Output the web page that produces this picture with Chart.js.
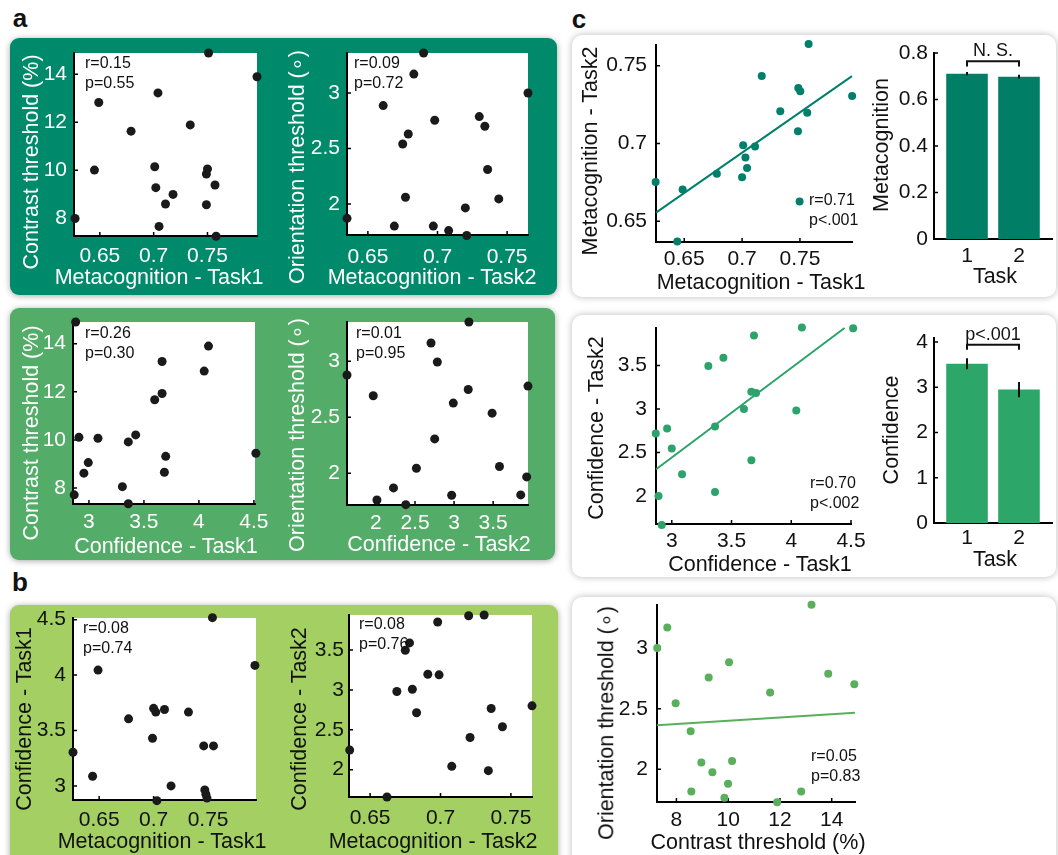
<!DOCTYPE html>
<html>
<head>
<meta charset="utf-8">
<script src="https://cdn.jsdelivr.net/npm/chart.js@4.4.1/dist/chart.umd.min.js"></script>
<style>
  html, body { margin: 0; padding: 0; background: #fff; }
  #fig { position: relative; width: 1058px; height: 855px; overflow: hidden; font-family: 'Liberation Sans', Arial, sans-serif; }
  .box { position: absolute; border-radius: 9px; box-shadow: 0 1px 6px rgba(0,0,0,0.35); }
  .card { position: absolute; background: #fff; border-radius: 10px; box-shadow: 0 0 7px rgba(0,0,0,0.28); }
  .lbl { position: absolute; white-space: nowrap; transform: translate(-50%, -50%); font-size: 21.5px; line-height: 1; z-index: 2; }
  .lbl.rot { transform: translate(-50%, -50%) rotate(-90deg); }
  .w { color: #fff; }
  .k { color: #111; }
  .note { position: absolute; white-space: nowrap; font-size: 16px; line-height: 20px; color: #111; z-index: 2; }
  .letter { position: absolute; font-weight: bold; font-size: 26px; transform: translate(-50%, -50%); color: #111; }
  canvas { position: absolute; z-index: 1; }
</style>
</head>
<body>
<div id="fig">
  <div class="box" style="left:10px;top:38px;width:547px;height:257px;background:#008a6c"></div>
  <div class="box" style="left:10px;top:308px;width:545px;height:252px;background:#53ad68"></div>
  <div class="box" style="left:10px;top:605px;width:548px;height:270px;background:#a3cf63"></div>
  <div class="card" style="left:572px;top:35px;width:484px;height:262px"></div>
  <div class="card" style="left:572px;top:315px;width:484px;height:262px"></div>
  <div class="card" style="left:572px;top:597px;width:484px;height:280px"></div>

  <div class="letter" style="left:20px;top:18px">a</div>
  <div class="letter" style="left:20px;top:582px">b</div>
  <div class="letter" style="left:579px;top:19px">c</div>

  <!-- axis titles -->
  <div class="lbl rot w" style="left:32px;top:162px">Contrast threshold (%)</div>
  <div class="lbl w" style="left:159px;top:278px">Metacognition - Task1</div>
  <div class="lbl rot w" style="left:298px;top:167px">Orientation threshold (∘)</div>
  <div class="lbl w" style="left:432px;top:278px">Metacognition - Task2</div>
  <div class="lbl rot w" style="left:32px;top:433px">Contrast threshold (%)</div>
  <div class="lbl w" style="left:166px;top:547px">Confidence - Task1</div>
  <div class="lbl rot w" style="left:298px;top:435px">Orientation threshold (∘)</div>
  <div class="lbl w" style="left:439px;top:545px">Confidence - Task2</div>
  <div class="lbl rot k" style="left:25px;top:719px">Confidence - Task1</div>
  <div class="lbl k" style="left:162px;top:842px">Metacognition - Task1</div>
  <div class="lbl rot k" style="left:300px;top:719px">Confidence - Task2</div>
  <div class="lbl k" style="left:433px;top:842px">Metacognition - Task2</div>
  <div class="lbl rot k" style="left:591px;top:151px">Metacognition - Task2</div>
  <div class="lbl k" style="left:761px;top:283px">Metacognition - Task1</div>
  <div class="lbl rot k" style="left:597px;top:428px">Confidence - Task2</div>
  <div class="lbl k" style="left:760px;top:565px">Confidence - Task1</div>
  <div class="lbl rot k" style="left:607px;top:723px">Orientation threshold (∘)</div>
  <div class="lbl k" style="left:758px;top:843px">Contrast threshold (%)</div>
  <div class="lbl rot k" style="left:882px;top:145px">Metacognition</div>
  <div class="lbl k" style="left:995px;top:277px">Task</div>
  <div class="lbl rot k" style="left:892px;top:430px">Confidence</div>
  <div class="lbl k" style="left:995px;top:560px">Task</div>

  <!-- correlation notes -->
  <div class="note" style="left:85px;top:53px">r=0.15<br>p=0.55</div>
  <div class="note" style="left:354px;top:53px">r=0.09<br>p=0.72</div>
  <div class="note" style="left:85px;top:323px">r=0.26<br>p=0.30</div>
  <div class="note" style="left:356px;top:323px">r=0.01<br>p=0.95</div>
  <div class="note" style="left:83px;top:618px">r=0.08<br>p=0.74</div>
  <div class="note" style="left:359px;top:614px">r=0.08<br>p=0.76</div>
  <div class="note" style="left:809px;top:190px">r=0.71<br>p&lt;.001</div>
  <div class="note" style="left:810px;top:473px">r=0.70<br>p&lt;.002</div>
  <div class="note" style="left:811px;top:746px">r=0.05<br>p=0.83</div>
</div>
<script>
// --- data (18 subjects per panel) ---
const a1Meta1 = [0.751, 0.796, 0.649, 0.704, 0.679, 0.734, 0.645, 0.701, 0.750, 0.749, 0.757, 0.702, 0.718, 0.711, 0.749, 0.627, 0.705, 0.758];
const a1Contrast = [14.88, 13.89, 12.82, 13.22, 11.63, 11.89, 10.01, 10.15, 10.06, 9.85, 9.39, 9.28, 9.00, 8.60, 8.57, 8.00, 7.67, 7.26];

const a2Meta2 = [0.690, 0.683, 0.765, 0.661, 0.698, 0.730, 0.734, 0.679, 0.675, 0.736, 0.677, 0.744, 0.635, 0.669, 0.697, 0.708, 0.720, 0.721];
const a2Orient = [3.36, 3.17, 3.00, 2.886, 2.754, 2.787, 2.70, 2.63, 2.54, 2.31, 2.06, 2.045, 1.87, 1.80, 1.80, 1.76, 1.964, 1.715];

const a3Conf1 = [2.879, 4.087, 4.048, 3.665, 3.665, 3.598, 2.909, 3.082, 3.425, 3.358, 4.518, 3.698, 2.994, 2.954, 3.686, 3.304, 2.866, 3.358];
const a3Contrast = [14.90, 13.90, 12.86, 13.26, 11.93, 11.67, 10.11, 10.07, 10.21, 9.92, 9.45, 9.32, 9.06, 8.62, 8.66, 8.06, 7.72, 7.35];

const a4Conf2 = [3.19, 2.705, 2.786, 1.630, 1.966, 3.946, 3.181, 2.990, 3.487, 2.752, 2.518, 3.581, 2.225, 3.929, 2.013, 2.382, 2.969, 3.853];
const a4Orient = [3.352, 3.164, 2.994, 2.878, 2.693, 2.779, 2.749, 2.627, 2.537, 2.307, 2.045, 2.06, 1.869, 1.967, 1.761, 1.719, 1.803, 1.806];

const b1Meta1 = [0.754, 0.793, 0.649, 0.677, 0.700, 0.702, 0.710, 0.732, 0.699, 0.746, 0.755, 0.626, 0.644, 0.716, 0.747, 0.748, 0.749, 0.703];
const b1Conf1 = [4.518, 4.087, 4.045, 3.605, 3.70, 3.666, 3.69, 3.666, 3.43, 3.361, 3.361, 3.304, 3.087, 3.00, 2.964, 2.925, 2.89, 2.867];

const b2Meta2 = [0.720, 0.731, 0.698, 0.678, 0.675, 0.691, 0.699, 0.669, 0.680, 0.683, 0.736, 0.765, 0.744, 0.721, 0.6355, 0.708, 0.734, 0.662];
const b2Conf2 = [3.929, 3.938, 3.85, 3.588, 3.496, 3.196, 3.188, 2.979, 3.008, 2.713, 2.767, 2.80, 2.538, 2.404, 2.246, 2.042, 1.988, 1.658];

const c1Meta1 = [0.7575, 0.717, 0.7951, 0.7486, 0.7503, 0.733, 0.7563, 0.7483, 0.7009, 0.7112, 0.7029, 0.7043, 0.700, 0.6782, 0.6486, 0.6253, 0.644, 0.7497];
const c1Meta2 = [0.7639, 0.7433, 0.7305, 0.7356, 0.7335, 0.7208, 0.7197, 0.7079, 0.6989, 0.6981, 0.691, 0.6843, 0.6783, 0.6805, 0.6704, 0.6753, 0.6371, 0.6627];
const c1Fit = [[0.6256, 0.6556], [0.795, 0.7433]];

const c2Conf1 = [4.089, 4.518, 3.688, 3.432, 3.306, 3.666, 3.705, 3.604, 4.042, 3.362, 2.961, 2.866, 3.0, 3.666, 3.086, 3.362, 2.889, 2.916];
const c2Conf2 = [3.937, 3.926, 3.845, 3.588, 3.492, 3.197, 3.182, 3.0, 2.982, 2.798, 2.775, 2.717, 2.545, 2.411, 2.25, 2.046, 2.0, 1.666];
const c2Fit = [[2.869, 2.307], [4.446, 3.93]];

const c3Contrast = [13.22, 7.647, 7.26, 10.034, 9.247, 13.866, 14.873, 11.621, 7.97, 8.55, 8.963, 10.15, 9.39, 9.995, 8.576, 9.854, 11.892, 12.82];
const c3Orient = [3.362, 3.174, 3.003, 2.887, 2.76, 2.79, 2.704, 2.635, 2.547, 2.315, 2.055, 2.069, 1.975, 1.881, 1.815, 1.765, 1.727, 1.815];
const c3Fit = [[7.25, 2.365], [14.9, 2.467]];

const tasks = [1, 2];
const metaMeans = [0.711, 0.698];
const metaErr = [0.007, 0.008];
const confMeans = [3.52, 2.95];
const confErr = [0.12, 0.17];

// tick labels
const ticksMeta = [0.65, 0.7, 0.75];
const ticksContrast = [8, 10, 12, 14];
const ticksOrient = [2, 2.5, 3];
const ticksConf1 = [3, 3.5, 4, 4.5];
const ticksConf2 = [2, 2.5, 3, 3.5];
const ticksBarMeta = [0, 0.2, 0.4, 0.6, 0.8];
const ticksBarConf = [0, 1, 2, 3, 4];

Chart.defaults.font.family = "'Liberation Sans', Arial, sans-serif";
Chart.defaults.font.size = 21;

// white plot area + MATLAB style inward ticks
const axesLook = {
  id: 'axesLook',
  beforeDraw(chart, args, opts) {
    if (!opts.fill) return;
    const a = chart.chartArea, ctx = chart.ctx;
    ctx.save();
    ctx.fillStyle = opts.fill;
    ctx.fillRect(a.left, a.top, a.right - a.left, a.bottom - a.top);
    ctx.restore();
  },
  beforeDatasetsDraw(chart) {
    const ctx = chart.ctx, a = chart.chartArea;
    const xs = chart.scales.x, ys = chart.scales.y;
    ctx.save();
    ctx.strokeStyle = '#000';
    ctx.lineWidth = 1.5;
    ctx.beginPath();
    xs.ticks.forEach(t => { const p = xs.getPixelForValue(t.value); ctx.moveTo(p, a.bottom); ctx.lineTo(p, a.bottom - 4); });
    ys.ticks.forEach(t => { const p = ys.getPixelForValue(t.value); ctx.moveTo(a.left, p); ctx.lineTo(a.left + 4, p); });
    ctx.stroke();
    ctx.restore();
  }
};

// error bars and significance bracket for the bar charts
const barExtras = {
  id: 'barExtras',
  afterDatasetsDraw(chart, args, opts) {
    if (!opts.err) return;
    const x = chart.scales.x, y = chart.scales.y, ctx = chart.ctx;
    ctx.save();
    ctx.strokeStyle = '#111';
    ctx.lineWidth = 2;
    ctx.beginPath();
    tasks.forEach((v, i) => {
      const px = x.getPixelForValue(v);
      ctx.moveTo(px, y.getPixelForValue(opts.means[i] - opts.err[i]));
      ctx.lineTo(px, y.getPixelForValue(opts.means[i] + opts.err[i]));
    });
    const p1 = x.getPixelForValue(tasks[0]), p2 = x.getPixelForValue(tasks[1]);
    const top = y.getPixelForValue(opts.bracket[0]), leg = y.getPixelForValue(opts.bracket[1]);
    ctx.moveTo(p1, leg); ctx.lineTo(p1, top); ctx.lineTo(p2, top); ctx.lineTo(p2, leg);
    ctx.stroke();
    ctx.fillStyle = '#111';
    ctx.font = "18px 'Liberation Sans', Arial, sans-serif";
    ctx.textAlign = 'center';
    ctx.textBaseline = 'alphabetic';
    ctx.fillText(opts.label, (p1 + p2) / 2, top - 5);
    ctx.restore();
  }
};

Chart.register(axesLook, barExtras);

const fig = document.getElementById('fig');
const W = 70, H = 40, PT = 20, PR = 15;

function makeCanvas(area) {
  const [l, t, r, b] = area;
  const cv = document.createElement('canvas');
  cv.width = (r - l) + W + PR;
  cv.height = (b - t) + H + PT;
  cv.style.left = (l - W) + 'px';
  cv.style.top = (t - PT) + 'px';
  fig.appendChild(cv);
  return cv;
}

function axis(range, ticks, pad, color, horiz) {
  return {
    type: 'linear',
    min: range[0], max: range[1],
    offset: false,
    grid: { display: false, drawTicks: false, offset: false },
    border: { display: true, color: '#000', width: 2 },
    ticks: {
      color: color, padding: pad,
      font: { size: 21, lineHeight: 1.2 },
      maxRotation: 0,
      callback: v => String(v)
    },
    afterBuildTicks: s => { s.ticks = ticks.map(v => ({ value: v })); },
    afterFit: s => {
      if (horiz) { s.height = H; s.paddingLeft = 0; s.paddingRight = 0; }
      else { s.width = W; s.paddingTop = 0; s.paddingBottom = 0; }
    }
  };
}

function scatter(p) {
  const cv = makeCanvas(p.area);
  const datasets = [{
    type: 'scatter',
    data: p.xs.map((x, i) => ({ x: x, y: p.ys[i] })),
    pointRadius: p.rad, pointBackgroundColor: p.dot, pointBorderWidth: 0,
    clip: false, order: 0
  }];
  if (p.fit) {
    datasets.push({
      type: 'line',
      data: p.fit.map(q => ({ x: q[0], y: q[1] })),
      borderColor: p.dot, borderWidth: 2, pointRadius: 0, fill: false,
      clip: false, order: 1
    });
  }
  new Chart(cv, {
    type: 'scatter',
    data: { datasets: datasets },
    options: {
      responsive: false, animation: false, devicePixelRatio: 1, events: [],
      layout: { padding: { top: PT, right: PR, left: 0, bottom: 0 } },
      scales: {
        x: axis(p.xr, p.xt, p.padX, p.tc, true),
        y: axis(p.yr, p.yt, p.padY, p.tc, false)
      },
      plugins: { legend: { display: false }, tooltip: { enabled: false }, axesLook: { fill: p.fill } }
    }
  });
}

function bars(p) {
  const cv = makeCanvas(p.area);
  new Chart(cv, {
    type: 'bar',
    data: {
      datasets: [{
        data: tasks.map((t, i) => ({ x: t, y: p.means[i] })),
        backgroundColor: p.color, borderWidth: 0,
        barPercentage: 0.8, categoryPercentage: 1
      }]
    },
    options: {
      responsive: false, animation: false, devicePixelRatio: 1, events: [],
      layout: { padding: { top: PT, right: PR, left: 0, bottom: 0 } },
      scales: {
        x: axis([0.365, 2.635], tasks, p.padX, '#111', true),
        y: axis(p.yr, p.yt, p.padY, '#111', false)
      },
      plugins: {
        legend: { display: false }, tooltip: { enabled: false },
        barExtras: { means: p.means, err: p.err, bracket: p.bracket, label: p.label }
      }
    }
  });
}

const dark = '#1a1a1a';
scatter({ area: [74, 53, 257, 236], xs: a1Meta1, ys: a1Contrast, xr: [0.626, 0.796], yr: [7.27, 14.88], xt: ticksMeta, yt: ticksContrast, padX: 8, padY: 7, tc: '#fff', dot: dark, rad: 4.5, fill: '#fff' });
scatter({ area: [347, 53, 528, 235], xs: a2Meta2, ys: a2Orient, xr: [0.635, 0.765], yr: [1.72, 3.36], xt: ticksMeta, yt: ticksOrient, padX: 10, padY: 7, tc: '#fff', dot: dark, rad: 4.5, fill: '#fff' });
scatter({ area: [73, 322, 255, 504], xs: a3Conf1, ys: a3Contrast, xr: [2.855, 4.51], yr: [7.34, 14.9], xt: ticksConf1, yt: ticksContrast, padX: 6, padY: 7, tc: '#fff', dot: dark, rad: 4.5, fill: '#fff' });
scatter({ area: [347, 322, 528, 505], xs: a4Conf2, ys: a4Orient, xr: [1.63, 3.946], yr: [1.716, 3.352], xt: ticksConf2, yt: ticksOrient, padX: 6, padY: 7, tc: '#fff', dot: dark, rad: 4.5, fill: '#fff' });
scatter({ area: [73, 618, 256, 800], xs: b1Meta1, ys: b1Conf1, xr: [0.626, 0.794], yr: [2.873, 4.515], xt: ticksMeta, yt: ticksConf1, padX: 8, padY: 7, tc: '#111', dot: dark, rad: 4.5, fill: '#fff' });
scatter({ area: [349, 615, 532, 797], xs: b2Meta2, ys: b2Conf2, xr: [0.635, 0.765], yr: [1.658, 3.938], xt: ticksMeta, yt: ticksConf2, padX: 9, padY: 5, tc: '#111', dot: dark, rad: 4.5, fill: '#fff' });
scatter({ area: [656, 45, 852, 242], xs: c1Meta1, ys: c1Meta2, xr: [0.6256, 0.795], yr: [0.6367, 0.7633], xt: ticksMeta, yt: ticksMeta, padX: 5, padY: 9, tc: '#111', dot: '#00806a', rad: 4, fit: c1Fit });
scatter({ area: [656, 328, 851, 524], xs: c2Conf1, ys: c2Conf2, xr: [2.868, 4.5], yr: [1.678, 3.93], xt: ticksConf1, yt: ticksConf2, padX: 5, padY: 9, tc: '#111', dot: '#2ba36a', rad: 4, fit: c2Fit });
scatter({ area: [657, 605, 855, 802], xs: c3Contrast, ys: c3Orient, xr: [7.25, 14.9], yr: [1.729, 3.36], xt: ticksContrast, yt: ticksOrient, padX: 6, padY: 9, tc: '#111', dot: '#5aaf5c', rad: 4, fit: c3Fit });

bars({ area: [934, 53, 1052, 239], means: metaMeans, err: metaErr, yr: [0, 0.8], yt: ticksBarMeta, padX: 5, padY: 6, color: '#007f66', bracket: [0.764, 0.742], label: 'N. S.' });
bars({ area: [934, 338, 1052, 523], means: confMeans, err: confErr, yr: [0, 4.09], yt: ticksBarConf, padX: 3, padY: 6, color: '#2da66a', bracket: [3.94, 3.83], label: 'p<.001' });
</script>
</body>
</html>
